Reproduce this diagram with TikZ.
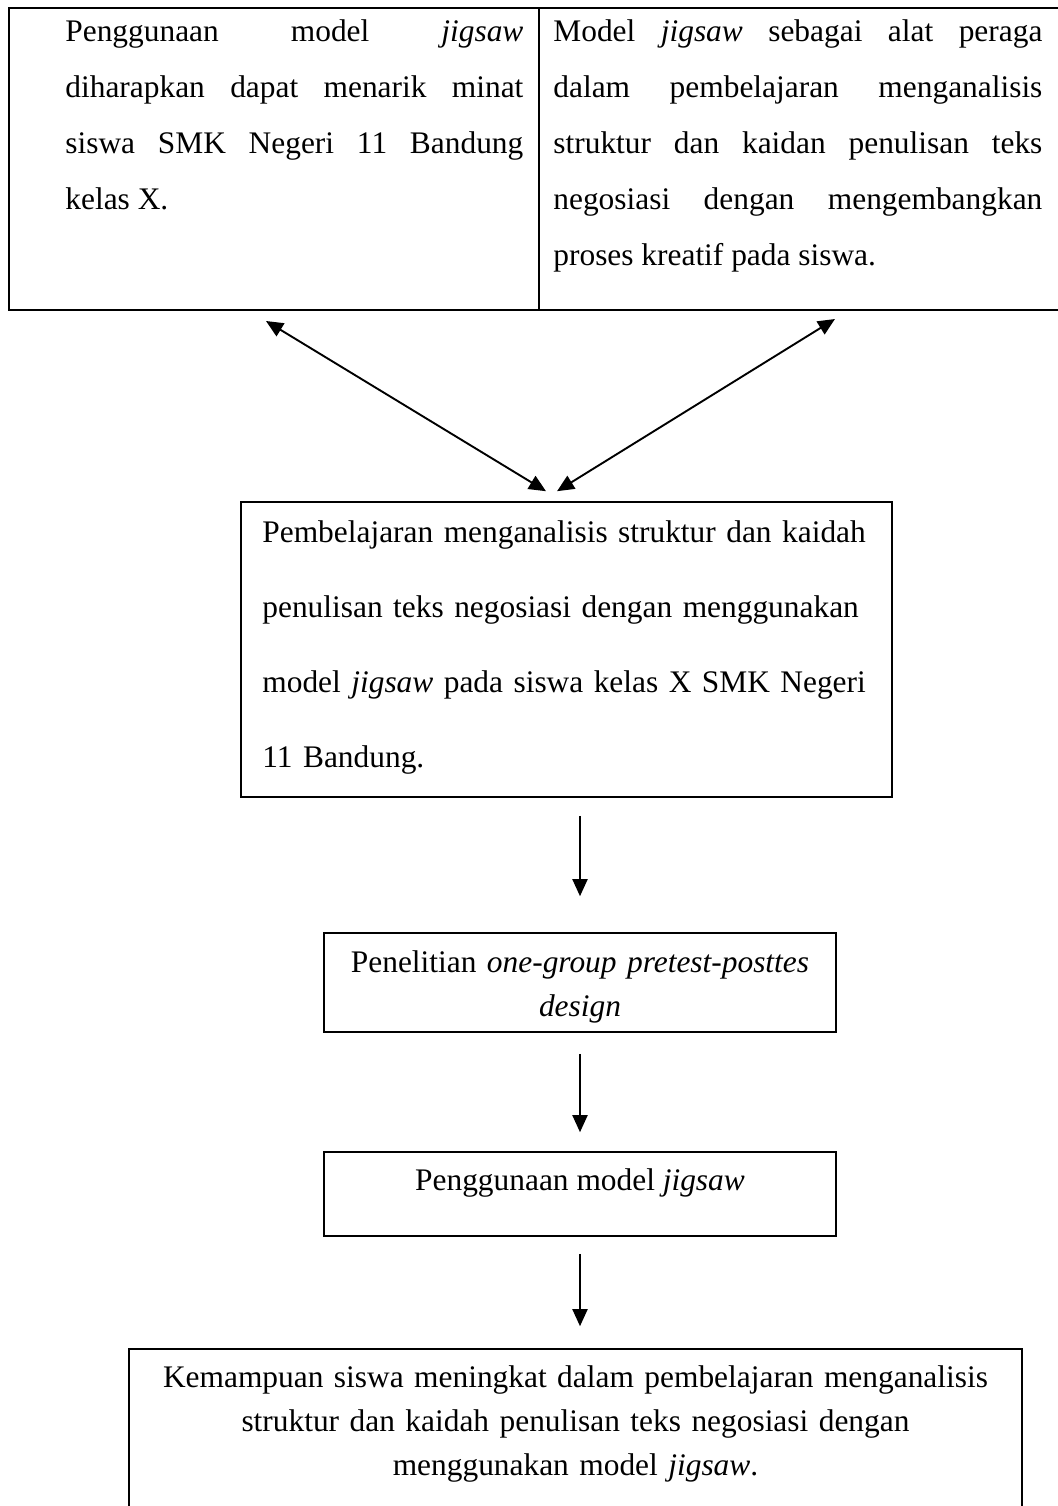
\documentclass[tikz,border=0pt]{standalone}
\usepackage{fontspec}
\setmainfont{Liberation Serif}
\usetikzlibrary{arrows.meta}
\hyphenpenalty=10000
\exhyphenpenalty=10000
\tolerance=10000
\tikzstyle{Cell}=[rectangle, draw=black, line width=1pt, inner sep=0]
\tikzstyle{Box}=[rectangle, draw=black, line width=0.8pt, inner sep=0]
\tikzstyle{Txt}=[inner sep=0, font=\fontsize{15.7}{22}\selectfont]
\tikzstyle{Arrow}=[line width=0.95pt]

\begin{document}
\begin{tikzpicture}[x=0.5pt, y=-0.5pt, >={Triangle[length=8.5pt, width=7.5pt]}]
    \useasboundingbox (0,0) rectangle (1057,1506);
    \path
    (274,159) node[Cell, minimum width=265pt, minimum height=151pt] (cellL) {}
    (800.5,159) node[Cell, minimum width=261.5pt, minimum height=151pt] (cellR) {}
    (566.5,649.5) node[Box, minimum width=325.5pt, minimum height=147.5pt] (study) {}
    (580,982.5) node[Box, minimum width=256pt, minimum height=49.5pt] (design) {}
    (580,1194) node[Box, minimum width=256pt, minimum height=42pt] (model) {}
    (575.5,1432) node[Box, minimum width=446.5pt, minimum height=83pt] (result) {};

    \path
    (65,19.5) node[Txt, anchor=north west, text width=229pt, align=justify, font=\fontsize{15.7}{28}\selectfont] (aimL) {Penggunaan model \textit{jigsaw}\linebreak diharapkan dapat menarik minat\linebreak siswa SMK Negeri 11 Bandung\linebreak kelas X.}
    (553,19.5) node[Txt, anchor=north west, text width=244.5pt, align=justify, font=\fontsize{15.7}{28}\selectfont] (aimR) {Model \textit{jigsaw} sebagai alat peraga\linebreak dalam pembelajaran menganalisis\linebreak struktur dan kaidan penulisan teks\linebreak negosiasi dengan mengembangkan\linebreak proses kreatif pada siswa.}
    (262,520.5) node[Txt, anchor=north west, text width=320pt, align=left, font=\fontsize{15.7}{37.5}\selectfont] (studytext) {Pembelajaran menganalisis struktur dan kaidah\\ penulisan teks negosiasi dengan menggunakan\\ model \textit{jigsaw} pada siswa kelas X SMK Negeri\\ 11 Bandung.}
    (580,950) node[Txt, anchor=north, text width=256pt, align=center] (designtext) {Penelitian \textit{one-group pretest-posttes}\\ \textit{design}}
    (580,1168.5) node[Txt, anchor=north] (modeltext) {Penggunaan model \textit{jigsaw}}
    (575.5,1365.5) node[Txt, anchor=north, text width=446pt, align=center] (resulttext) {Kemampuan siswa meningkat dalam pembelajaran menganalisis\\ struktur dan kaidah penulisan teks negosiasi dengan\\ menggunakan model \textit{jigsaw}.};

    \draw[Arrow, <->] ([xshift=-4pt, yshift=-5pt]cellL.south) -- ([xshift=-10.25pt, yshift=5pt]study.north);
    \draw[Arrow, <->] ([xshift=17.25pt, yshift=-4pt]cellR.south) -- ([xshift=-4.75pt, yshift=5pt]study.north);
    \draw[Arrow, ->, shorten <=9pt, shorten >=18pt] (study.south -| design.north) -- (design.north);
    \draw[Arrow, ->, shorten <=10.5pt, shorten >=9.5pt] (design.south) -- (model.north);
    \draw[Arrow, ->, shorten <=8.5pt, shorten >=11pt] (model.south) -- (model.south |- result.north);
\end{tikzpicture}
\end{document}
